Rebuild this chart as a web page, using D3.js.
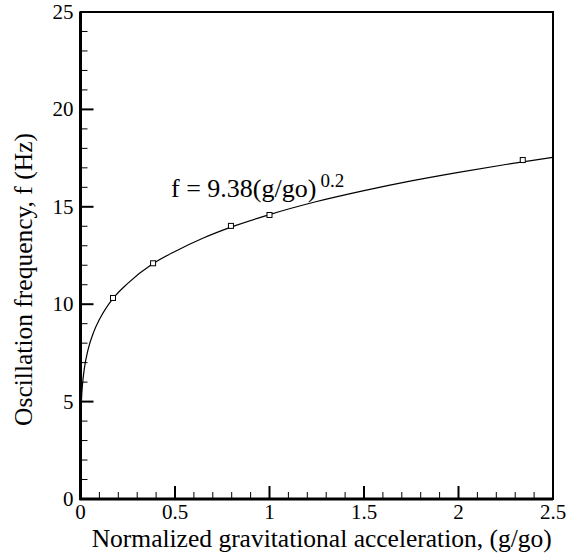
<!DOCTYPE html>
<html>
<head>
<meta charset="utf-8">
<script src="https://cdn.jsdelivr.net/npm/d3@7"></script>
<style>
  html, body { margin: 0; padding: 0; background: #fff; }
  svg text { font-family: "Liberation Serif", "Tinos", "DejaVu Serif", serif; }
</style>
</head>
<body>
<svg id="chart" width="576" height="556"></svg>
<script>
// Measured oscillation frequency vs. normalized gravity
const accel = [0.172, 0.384, 0.796, 1.0, 2.34];
const freq = [10.32, 12.1, 14.02, 14.58, 17.4];

// Fitted power-law curve, sampled along g/go
const fitAccel = [0, 0.0005, 0.002, 0.005, 0.01, 0.02, 0.04, 0.07, 0.1, 0.17, 0.25, 0.38, 0.5, 0.65, 0.8, 1.0, 1.25, 1.5, 1.75, 2.0, 2.25, 2.5];
const fitFreq = [0, 3.2, 4.2, 5.06, 5.81, 6.68, 7.67, 8.58, 9.21, 10.27, 11.07, 12.06, 12.71, 13.4, 13.97, 14.6, 15.27, 15.83, 16.33, 16.77, 17.17, 17.54];

const xTicks = [0, 0.5, 1, 1.5, 2, 2.5];
const xTickLabels = ["0", "0.5", "1", "1.5", "2", "2.5"];
const yTicks = [0, 5, 10, 15, 20, 25];
const yTickLabels = ["0", "5", "10", "15", "20", "25"];

const svg = d3.select("#chart");
const plotL = 80.5, plotR = 553, plotT = 12, plotB = 499;

const x = d3.scaleLinear().domain([0, 2.5]).range([plotL, plotR]);
const y = d3.scaleLinear().domain([0, 25]).range([plotB, plotT]);

// Minor ticks (inward)
const xMinor = d3.range(0, 2.5001, 0.1).filter(v => Math.abs(v / 0.5 - Math.round(v / 0.5)) > 1e-6);
const yMinor = d3.range(0, 25.001, 1).filter(v => v % 5 !== 0);

const g = svg.append("g").attr("fill", "#000");

g.append("g").selectAll("line").data(xMinor).join("line")
  .attr("x1", d => x(d)).attr("x2", d => x(d))
  .attr("y1", plotB).attr("y2", plotB - 7)
  .attr("stroke", "#000").attr("stroke-width", 1);
g.append("g").selectAll("line").data(yMinor).join("line")
  .attr("x1", plotL).attr("x2", plotL + 7)
  .attr("y1", d => y(d)).attr("y2", d => y(d))
  .attr("stroke", "#000").attr("stroke-width", 1);

// Major ticks (inward)
g.append("g").selectAll("line").data(xTicks).join("line")
  .attr("x1", d => x(d)).attr("x2", d => x(d))
  .attr("y1", plotB).attr("y2", plotB - 13)
  .attr("stroke", "#000").attr("stroke-width", 2);
g.append("g").selectAll("line").data(yTicks).join("line")
  .attr("x1", plotL).attr("x2", plotL + 13)
  .attr("y1", d => y(d)).attr("y2", d => y(d))
  .attr("stroke", "#000").attr("stroke-width", 2);

// Tick labels
g.append("g").selectAll("text").data(xTicks).join("text")
  .attr("x", d => x(d)).attr("y", plotB + 20)
  .attr("text-anchor", "middle").attr("font-size", 21)
  .text((d, i) => xTickLabels[i]);
g.append("g").selectAll("text").data(yTicks).join("text")
  .attr("x", plotL - 7).attr("y", d => y(d) + 7)
  .attr("text-anchor", "end").attr("font-size", 21)
  .text((d, i) => yTickLabels[i]);

// Fit curve
const line = d3.line().x(d => x(d[0])).y(d => y(d[1])).curve(d3.curveMonotoneX);
g.append("path")
  .datum(fitAccel.map((v, i) => [v, fitFreq[i]]))
  .attr("d", line)
  .attr("fill", "none").attr("stroke", "#000").attr("stroke-width", 1.2);

// Data markers
g.append("g").selectAll("rect").data(accel.map((v, i) => [v, freq[i]])).join("rect")
  .attr("x", d => x(d[0]) - 2.5).attr("y", d => y(d[1]) - 2.5)
  .attr("width", 5).attr("height", 5)
  .attr("fill", "#fff").attr("stroke", "#000").attr("stroke-width", 1);

// Frame
g.append("rect")
  .attr("x", plotL).attr("y", plotT)
  .attr("width", plotR - plotL).attr("height", plotB - plotT)
  .attr("fill", "none").attr("stroke", "#000").attr("stroke-width", 2);
g.append("line").attr("x1", plotL).attr("x2", plotL).attr("y1", plotT).attr("y2", plotB + 1)
  .attr("stroke", "#000").attr("stroke-width", 3);
g.append("line").attr("x1", plotL - 1).attr("x2", plotR).attr("y1", plotB).attr("y2", plotB)
  .attr("stroke", "#000").attr("stroke-width", 3);

// Fit equation label
const eq = g.append("text").attr("x", 171).attr("y", 197).attr("font-size", 26);
eq.append("tspan").text("f = 9.38(g/go)");
eq.append("tspan").attr("dx", 4).attr("dy", -10).attr("font-size", 19).text("0.2");

// Axis titles
g.append("text")
  .attr("x", (plotL + plotR) / 2 + 5).attr("y", 547)
  .attr("text-anchor", "middle").attr("font-size", 25.5)
  .text("Normalized gravitational acceleration, (g/go)");
g.append("text")
  .attr("transform", `translate(32, ${(plotT + plotB) / 2 + 24}) rotate(-90)`)
  .attr("text-anchor", "middle").attr("font-size", 25.5)
  .text("Oscillation frequency, f (Hz)");
</script>
</body>
</html>
